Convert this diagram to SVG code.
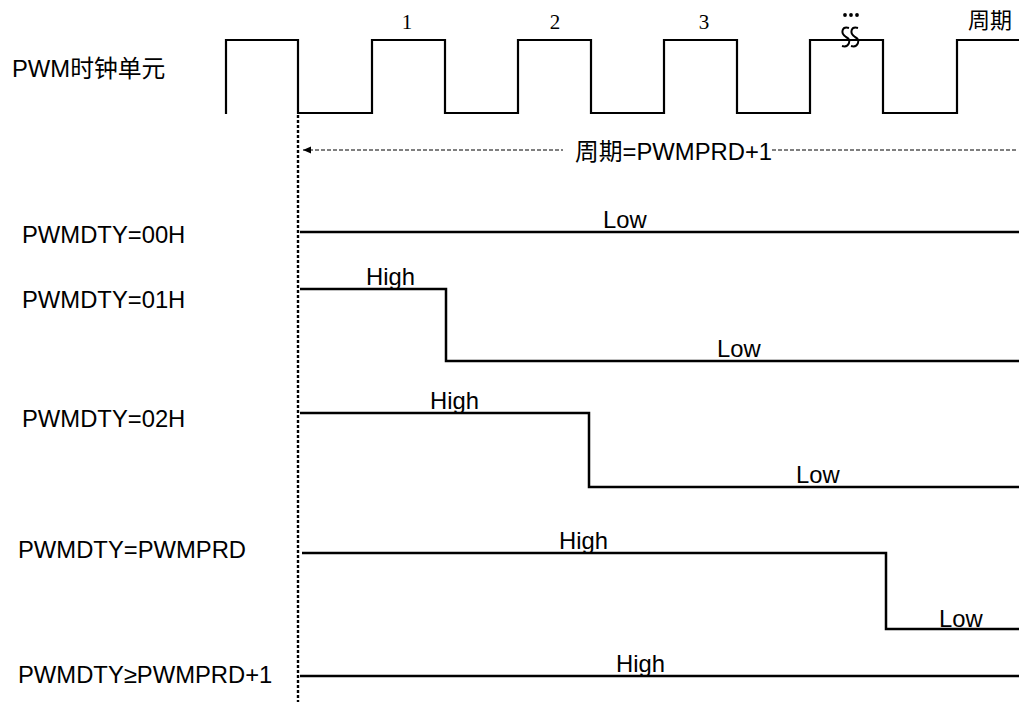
<svg xmlns="http://www.w3.org/2000/svg" width="1019" height="702" viewBox="0 0 1019 702">
<style>
.lbl{font-family:"Liberation Sans",Arial,"Noto Sans CJK SC",sans-serif;font-size:23.8px;fill:#000}
.ser{font-family:"Liberation Serif","Times New Roman","Noto Sans CJK SC",serif;font-size:21px;fill:#000}
.wave{fill:none;stroke:#000;stroke-width:2.5;stroke-linejoin:miter}
.clk{fill:none;stroke:#000;stroke-width:2.2}
</style>
<defs>
<marker id="ah" markerWidth="10" markerHeight="8" refX="1" refY="4" orient="auto" markerUnits="userSpaceOnUse">
<path d="M9,0.5 L1,4 L9,7.5 Z" fill="#000"/>
</marker>
</defs>
<rect width="1019" height="702" fill="#fff"/>
<g id="clock">
<polyline class="clk" points="226,114 226,40 298,40 298,113 372,113 372,40 445,40 445,113 518,113 518,40 591,40 591,113 664,113 664,40 737,40 737,113 810,113 810,40 883,40 883,113 957,113 957,40 1019,40"/>
<text class="lbl" x="12" y="77">PWM时钟单元</text>
<text class="ser" x="407" y="29" text-anchor="middle">1</text>
<text class="ser" x="555" y="29" text-anchor="middle">2</text>
<text class="ser" x="704" y="29" text-anchor="middle">3</text>
<text class="ser" x="990" y="28" text-anchor="middle" style="font-size:22px">周期</text>
<g fill="#000"><circle cx="845" cy="15" r="1.9"/><circle cx="851" cy="15" r="1.9"/><circle cx="857" cy="15" r="1.9"/></g>
<path d="M849,28 C842,26 840,33 846,37 C852,40 849,48 842,46 M858,28 C851,26 849,33 855,37 C861,40 858,48 851,46" fill="none" stroke="#000" stroke-width="2"/>
</g>
<g id="connectors">
<line x1="298" y1="115" x2="298" y2="702" stroke="#000" stroke-width="2.4" stroke-dasharray="3,2"/>
<line x1="303" y1="150" x2="563" y2="150" stroke="#000" stroke-width="1" stroke-dasharray="4,2" marker-start="url(#ah)"/>
<line x1="772" y1="150" x2="1016" y2="150" stroke="#000" stroke-width="1" stroke-dasharray="4,2"/>
<text class="lbl" x="575" y="160">周期=PWMPRD+1</text>
</g>
<g id="row00">
<text class="lbl" x="22" y="243">PWMDTY=00H</text>
<polyline class="wave" points="300,232 1019,232"/>
<text class="lbl" x="603" y="228">Low</text>
</g>
<g id="row01">
<text class="lbl" x="22" y="308">PWMDTY=01H</text>
<polyline class="wave" points="300,289 446,289 446,361 1019,361"/>
<text class="lbl" x="366" y="285">High</text>
<text class="lbl" x="717" y="357">Low</text>
</g>
<g id="row02">
<text class="lbl" x="22" y="427">PWMDTY=02H</text>
<polyline class="wave" points="300,413 589,413 589,487 1019,487"/>
<text class="lbl" x="430" y="409">High</text>
<text class="lbl" x="796" y="483">Low</text>
</g>
<g id="rowprd">
<text class="lbl" x="18" y="558">PWMDTY=PWMPRD</text>
<polyline class="wave" points="302,553 886,553 886,629 1019,629"/>
<text class="lbl" x="559" y="549">High</text>
<text class="lbl" x="939" y="627">Low</text>
</g>
<g id="rowmax">
<text class="lbl" x="18" y="683">PWMDTY≥PWMPRD+1</text>
<polyline class="wave" points="300,676 1019,676"/>
<text class="lbl" x="616" y="672">High</text>
</g>
</svg>
